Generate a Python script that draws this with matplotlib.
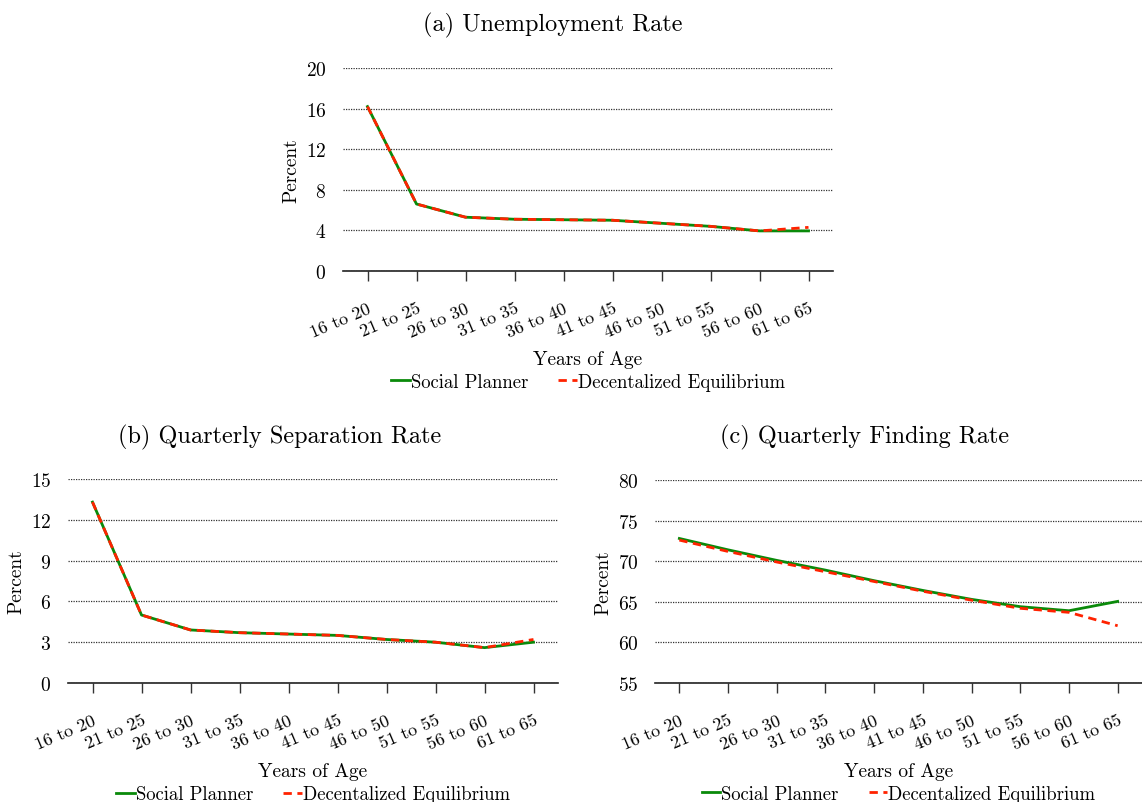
import numpy as np
import matplotlib
matplotlib.use("Agg")
import matplotlib.pyplot as plt

plt.rcParams['font.family'] = ['cmr10', 'DejaVu Serif']
plt.rcParams['mathtext.fontset'] = 'cm'
plt.rcParams['axes.formatter.use_mathtext'] = True

age_groups = ["16 to 20", "21 to 25", "26 to 30", "31 to 35", "36 to 40",
              "41 to 45", "46 to 50", "51 to 55", "56 to 60", "61 to 65"]

unemp_sp = [16.2, 6.6, 5.3, 5.1, 5.05, 5.0, 4.7, 4.4, 3.95, 3.95]
unemp_de = [16.2, 6.6, 5.3, 5.1, 5.05, 5.0, 4.7, 4.4, 3.95, 4.3]

sep_sp = [13.3, 5.0, 3.9, 3.7, 3.6, 3.5, 3.2, 3.0, 2.6, 3.0]
sep_de = [13.3, 5.0, 3.9, 3.7, 3.6, 3.5, 3.2, 3.0, 2.6, 3.2]

find_sp = [72.8, 71.4, 70.1, 68.9, 67.6, 66.4, 65.3, 64.4, 63.9, 65.05]
find_de = [72.6, 71.2, 69.9, 68.7, 67.5, 66.3, 65.2, 64.2, 63.7, 62.05]

W, H = 1142, 803
fig = plt.figure(figsize=(W / 100, H / 100), dpi=100)


def px_axes(x0, y0, x1, y1):
    return fig.add_axes([x0 / W, 1 - y1 / H, (x1 - x0) / W, (y1 - y0) / H])


def panel(ax, sp, de, yticks, title, title_x, title_y):
    x = np.arange(len(age_groups))
    ax.plot(x, sp, color="#0a8a0a", lw=2.0, label="Social Planner")
    ax.plot(x, de, color="#ff2200", lw=2.0, ls=(0, (3, 2)),
            label="Decentalized Equilibrium")
    ax.set_xlim(-0.5, len(age_groups) - 0.5)
    ax.set_ylim(yticks[0], yticks[-1])
    ax.set_yticks(yticks)
    ax.set_xticks(x)
    ax.set_xticklabels(age_groups, rotation=23, ha="right",
                       rotation_mode="anchor", fontsize=13)
    ax.tick_params(axis="x", length=7, width=1, color="#333333", pad=14)
    ax.tick_params(axis="y", length=0, labelsize=14, pad=12)
    for s in ["top", "right", "left"]:
        ax.spines[s].set_visible(False)
    ax.spines["bottom"].set_color("#222222")
    ax.spines["bottom"].set_linewidth(1.2)
    ax.yaxis.grid(True, ls=(0, (1, 1)), color="#333333", lw=0.9)
    ax.set_axisbelow(True)
    ax.set_ylabel("Percent", fontsize=14, labelpad=4)
    ax.set_xlabel("Years of Age", fontsize=14, labelpad=8)
    ax.legend(loc="upper center", bbox_to_anchor=(0.5, -0.455), ncol=2,
              frameon=False, fontsize=13.5, handlelength=1.0,
              handletextpad=0.05, columnspacing=1.6, borderpad=0)
    fig.text(title_x / W, 1 - title_y / H, title, fontsize=17.5,
             ha="center", va="center")


ax1 = px_axes(343, 69, 833, 272)
panel(ax1, unemp_sp, unemp_de, [0, 4, 8, 12, 16, 20],
      "(a) Unemployment Rate", 553, 25)

ax2 = px_axes(68, 480, 558, 684)
panel(ax2, sep_sp, sep_de, [0, 3, 6, 9, 12, 15],
      "(b) Quarterly Separation Rate", 280, 437)

ax3 = px_axes(655, 481, 1142, 684)
panel(ax3, find_sp, find_de, [55, 60, 65, 70, 75, 80],
      "(c) Quarterly Finding Rate", 865, 437)

fig.savefig("out.png", dpi=100)
